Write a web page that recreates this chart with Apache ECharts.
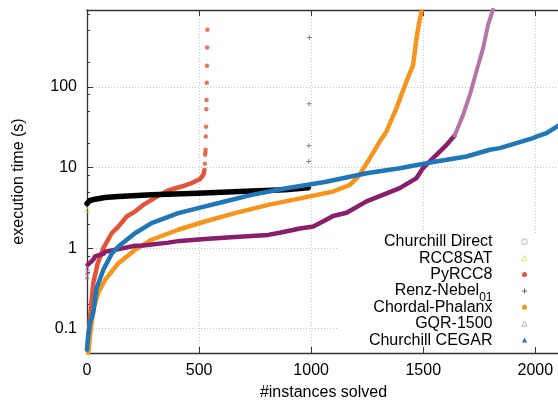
<!DOCTYPE html>
<html><head><meta charset="utf-8">
<script src="https://cdn.jsdelivr.net/npm/echarts@6/dist/echarts.min.js"></script>
<style>html,body{margin:0;padding:0;background:#fff}#c{width:558px;height:402px}</style>
</head><body><div id="c"></div>
<script>
// ---- data ----
const xTicks = [0, 500, 1000, 1500, 2000];
const yTicks = [0.1, 1, 10, 100];
const yMinorTicks = [0.2, 0.5, 0.8, 2, 5, 8, 20, 50, 80, 200, 500, 800];

const churchillDirect = [];
const rcc8sat = [[0, 3.0]];
const pyrcc8Curve = [[3,0.06],[9,0.097],[18,0.19],[28,0.37],[48,0.65],[73,1.0],[110,1.53],[140,1.85],[177,2.47],[214,2.84],[251,3.44],[288,3.97],[325,4.58],[362,5.19],[422,5.81],[467,6.41],[504,7.18],[519,8.12],[524,9.3]];
const pyrcc8Tail = [[526,11.1],[527,14.4],[528,15.4],[529,16.6],[530,24.3],[531,32],[532,53],[533,68.6],[534,113],[535,183],[536,308],[537,511]];
const renzCurve = [[0,3.57],[13,3.9],[36,4.05],[80,4.24],[140,4.37],[288,4.58],[496,4.81],[734,5.1],[883,5.29],[987,5.6]];
const renzTail = [[989,11.9],[990,18.6],[991,61.7],[992,410]];
const chordalCurve = [[6,0.05],[13,0.08],[28,0.17],[50,0.28],[80,0.40],[140,0.65],[214,0.95],[288,1.27],[407,1.69],[526,2.14],[660,2.72],[808,3.44],[957,4.17],[1098,5.04],[1173,6.1],[1210,7.7],[1262,13.1],[1306,21],[1336,28],[1381,55],[1425,117],[1455,188],[1470,403],[1480,589],[1492,861]];
const gqrStart = [[0,0.44],[1,0.5],[2,0.56]];
const gqrCurve = [[3,0.62],[6,0.65],[28,0.72],[36,0.79],[73,0.85],[80,0.9],[147,0.98],[214,1.07],[251,1.08],[362,1.17],[415,1.23],[511,1.29],[660,1.37],[808,1.46],[860,1.55],[950,1.75],[1009,1.85],[1061,2.2],[1098,2.5],[1158,2.75],[1247,3.8],[1395,5.55],[1470,7.4],[1499,9.85],[1544,13.1],[1604,19.1],[1640,25]];
const gqrTail = [[1640,25],[1678,45],[1708,80],[1737,155],[1767,303],[1789,589],[1811,905]];
const cegarCurve = [[0,0.055],[5,0.08],[13,0.117],[28,0.16],[43,0.32],[73,0.54],[110,0.85],[140,1.05],[214,1.53],[288,2.04],[407,2.72],[496,3.13],[615,3.79],[734,4.58],[883,5.5],[1061,6.6],[1247,8.5],[1395,9.8],[1544,11.7],[1693,13.7],[1797,16.6],[1841,17.4],[1990,23.2],[2005,24.2],[2050,26.7],[2110,34]];

const names = ['Churchill Direct','RCC8SAT','PyRCC8','Renz-Nebel01','Chordal-Phalanx','GQR-1500','Churchill CEGAR'];

// ---- styles ----
const FONT = 'Liberation Sans, Arial, Helvetica, sans-serif';
const C = {
  red: '#e4533a', orange: '#f7941e', blue: '#1f77b8', purple: '#8a1e6c',
  purpleLight: '#b574a8', black: '#000000', green: '#9fc58a', yellow: '#f0cf55',
  purpleIcon: '#c68fbf', grey: '#666666'
};
const PLUS = 'path://M2,0H3V2H5V3H3V5H2V3H0V2H2Z';

function curve(name, data, color, width) {
  return { name, type: 'line', data, showSymbol: false, symbol: 'none',
    lineStyle: { color, width, join: 'round', cap: 'round' }, itemStyle: { color },
    animation: false, silent: true, z: 3 };
}
function dots(name, data, symbol, size, style) {
  return { name, type: 'scatter', data, symbol, symbolSize: size, itemStyle: style,
    animation: false, silent: true, z: 3 };
}

const axisLineStyle = { color: '#333', width: 1.3 };
const option = {
  animation: false,
  backgroundColor: '#fff',
  grid: { left: 87, right: -2, top: 10, bottom: 49, containLabel: false, outerBoundsMode: 'none' },
  graphic: [{ type: 'rect', z: 1, silent: true,
    shape: { x: 337, y: 233, width: 230, height: 114 }, style: { fill: '#fff' } }],
  xAxis: [{
    type: 'value', min: 0, max: 2110, interval: 500,
    name: '#instances solved', nameLocation: 'middle', nameGap: 32,
    nameTextStyle: { fontFamily: FONT, fontSize: 16, color: '#000' },
    axisLine: { show: true, lineStyle: axisLineStyle },
    axisTick: { show: true, inside: true, length: 6, lineStyle: { color: '#333' }, customValues: xTicks },
    axisLabel: { fontFamily: FONT, fontSize: 16, color: '#000', margin: 10, customValues: xTicks, formatter: v => String(v) },
    splitLine: { show: true, lineStyle: { color: '#c8c8c8', type: [1, 2], width: 1 } }
  }, {
    type: 'value', position: 'top', min: 0, max: 2110, interval: 500,
    axisLine: { show: true, onZero: false, lineStyle: axisLineStyle },
    axisTick: { show: true, inside: true, length: 6, lineStyle: { color: '#333' }, customValues: xTicks },
    axisLabel: { show: false }, splitLine: { show: false }
  }],
  yAxis: [{
    type: 'log', logBase: 10, min: 0.05, max: 900,
    name: 'execution time (s)', nameLocation: 'middle', nameGap: 60,
    nameTextStyle: { fontFamily: FONT, fontSize: 16, color: '#000' },
    axisLine: { show: true, onZero: false, lineStyle: axisLineStyle },
    axisTick: { show: true, inside: true, length: 6, lineStyle: { color: '#333' }, customValues: yTicks },
    axisLabel: { fontFamily: FONT, fontSize: 16, color: '#000', margin: 10, customValues: yTicks, formatter: v => String(v) },
    splitLine: { show: true, lineStyle: { color: '#c8c8c8', type: [1, 2], width: 1 } }
  }, {
    type: 'log', logBase: 10, min: 0.05, max: 900, position: 'left',
    axisLine: { show: false },
    axisTick: { show: true, inside: true, length: 3, lineStyle: { color: '#333' }, customValues: yMinorTicks },
    axisLabel: { show: false }, splitLine: { show: false }
  }],
  legend: {
    orient: 'vertical', align: 'right', right: 0, top: 228.7,
    padding: [0, 28.5, 0, 0], itemWidth: 5, itemHeight: 5, itemGap: -9.6,
    selectedMode: false, backgroundColor: 'transparent', z: 5,
    textStyle: { fontFamily: FONT, fontSize: 16, lineHeight: 26, color: '#000', padding: [0, 24.5, 0, 0],
      rich: {
        t: { fontFamily: FONT, fontSize: 16, lineHeight: 26, color: '#000' },
        sub: { fontFamily: FONT, fontSize: 12, lineHeight: 12, padding: [14, 0, 0, 0], verticalAlign: 'top', color: '#000' }
      } },
    formatter: n => n === 'Renz-Nebel01' ? '{t|Renz-Nebel}{sub|01}' : '{t|' + n + '}',
    data: [
      { name: names[0], icon: 'rect', itemStyle: { color: 'none', borderColor: C.green, borderWidth: 1 } },
      { name: names[1], icon: 'triangle', itemStyle: { color: 'none', borderColor: C.yellow, borderWidth: 1 } },
      { name: names[2], icon: 'circle', itemStyle: { color: C.red, borderWidth: 0 } },
      { name: names[3], icon: PLUS, itemStyle: { color: C.grey, borderWidth: 0 } },
      { name: names[4], icon: 'circle', itemStyle: { color: C.orange, borderWidth: 0 } },
      { name: names[5], icon: 'triangle', itemStyle: { color: 'none', borderColor: C.purpleIcon, borderWidth: 1 } },
      { name: names[6], icon: 'triangle', itemStyle: { color: C.blue, borderWidth: 0 } }
    ]
  },
  series: [
    dots(names[0], churchillDirect, 'rect', 5, { color: 'none', borderColor: C.green, borderWidth: 1 }),
    dots(names[1], rcc8sat, 'triangle', 5, { color: 'none', borderColor: C.yellow, borderWidth: 1 }),
    curve(names[2], pyrcc8Curve, C.red, 4.5),
    dots(names[2], pyrcc8Tail, 'circle', 4.5, { color: C.red }),
    curve(names[3], renzCurve, C.black, 5.5),
    dots(names[3], renzTail, PLUS, 5, { color: C.grey }),
    curve(names[4], chordalCurve, C.orange, 4.5),
    dots(names[5], gqrStart, 'triangle', 4, { color: 'none', borderColor: C.purpleLight, borderWidth: 1 }),
    curve(names[5], gqrCurve, C.purple, 4.5),
    curve(names[5], gqrTail, C.purpleLight, 4),
    curve(names[6], cegarCurve, C.blue, 4.5)
  ]
};
echarts.init(document.getElementById('c')).setOption(option);
</script>
</body></html>
